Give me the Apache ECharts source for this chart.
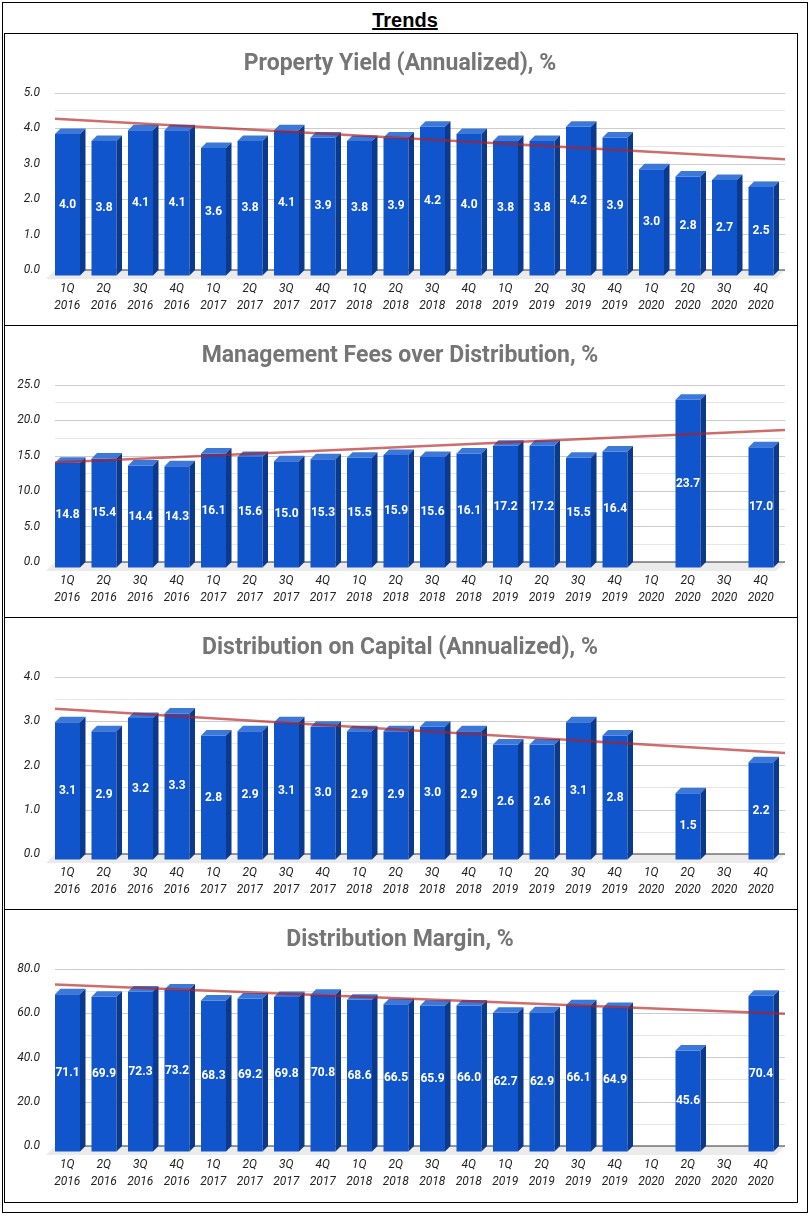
<!DOCTYPE html>
<html>

<head>
    <meta charset="utf-8">
    <title>Trends</title>
    <style>
        body {
            margin: 0;
            background: #fff;
        }

        #frame {
            position: absolute;
            left: 2px;
            top: 2px;
            width: 806px;
            height: 1211px;
            box-sizing: border-box;
            border: 1.5px solid #000;
        }

        #head {
            position: absolute;
            left: 2px;
            top: 2px;
            width: 806px;
            height: 31px;
            text-align: center;
            font: bold 20px "Liberation Sans", Arial, sans-serif;
            line-height: 37px;
        }

        #head span {
            text-decoration: underline;
        }

        .panel {
            position: absolute;
            left: 4px;
            width: 794px;
            box-sizing: border-box;
            border: 1.5px solid #000;
            border-bottom: none;
        }

        #main {
            position: absolute;
            left: 0;
            top: 0;
            width: 812px;
            height: 1220px;
        }
    </style>
</head>

<body>
    <div id="frame"></div>
    <div id="head"><span>Trends</span></div>
    <div class="panel" style="top:33px;height:292px"></div>
    <div class="panel" style="top:325px;height:292px"></div>
    <div class="panel" style="top:617px;height:292px"></div>
    <div class="panel" style="top:909px;height:294px;border-bottom:1.5px solid #000"></div>

    <div id="main"></div>

    <script src="https://cdn.jsdelivr.net/npm/echarts@6/dist/echarts.min.js"></script>
    <script>
        // data
        var quarters = ['1Q\n2016', '2Q\n2016', '3Q\n2016', '4Q\n2016',
            '1Q\n2017', '2Q\n2017', '3Q\n2017', '4Q\n2017',
            '1Q\n2018', '2Q\n2018', '3Q\n2018', '4Q\n2018',
            '1Q\n2019', '2Q\n2019', '3Q\n2019', '4Q\n2019',
            '1Q\n2020', '2Q\n2020', '3Q\n2020', '4Q\n2020'];

        var propertyYield = [4.0, 3.8, 4.1, 4.1, 3.6, 3.8, 4.1, 3.9, 3.8, 3.9,
            4.2, 4.0, 3.8, 3.8, 4.2, 3.9, 3.0, 2.8, 2.7, 2.5];
        var managementFees = [14.8, 15.4, 14.4, 14.3, 16.1, 15.6, 15.0, 15.3, 15.5, 15.9,
            15.6, 16.1, 17.2, 17.2, 15.5, 16.4, null, 23.7, null, 17.0];
        var distributionOnCapital = [3.1, 2.9, 3.2, 3.3, 2.8, 2.9, 3.1, 3.0, 2.9, 2.9,
            3.0, 2.9, 2.6, 2.6, 3.1, 2.8, null, 1.5, null, 2.2];
        var distributionMargin = [71.1, 69.9, 72.3, 73.2, 68.3, 69.2, 69.8, 70.8, 68.6, 66.5,
            65.9, 66.0, 62.7, 62.9, 66.1, 64.9, null, 45.6, null, 70.4];

        var chartTitles = ['Property Yield (Annualized), %',
            'Management Fees over Distribution, %',
            'Distribution on Capital (Annualized), %',
            'Distribution Margin, %'];
        var axisMax = [5, 25, 4, 80];
        var axisStep = [1, 5, 1, 20];

        var allValues = [propertyYield, managementFees, distributionOnCapital, distributionMargin];

        var DEPTH = 5.5;   // 3d offset of the bars
        var FLOOR = 9;     // 3d offset of the floor
        var PANEL = 292;

        // linear trendline over the quarters that have a value
        function trendLine(values) {
            var n = 0, sx = 0, sy = 0, sxx = 0, sxy = 0;
            values.forEach(function (v, i) {
                if (v == null) return;
                n++; sx += i; sy += v; sxx += i * i; sxy += i * v;
            });
            var b = (n * sxy - sx * sy) / (n * sxx - sx * sx);
            var a = (sy - b * sx) / n;
            var x0 = -0.5, x1 = values.length - 0.5;
            return [[x0, a + b * x0], [x1, a + b * x1]];
        }

        function renderBar(params, api) {
            var v = api.value(1);
            if (v == null || isNaN(v)) return null;
            var top = api.coord([api.value(0), v]);
            var base = api.coord([api.value(0), 0]);
            var band = api.size([1, 0])[0];
            var x0 = top[0] - band / 2;
            var w = band * 0.685;
            var d = DEPTH;
            return {
                type: 'group',
                children: [{
                    type: 'rect',
                    shape: { x: x0, y: top[1] + d, width: w, height: base[1] - top[1] },
                    style: { fill: '#1155cc' }
                }, {
                    type: 'polygon',
                    shape: { points: [[x0, top[1] + d], [x0 + w, top[1] + d], [x0 + w + d, top[1]], [x0 + d, top[1]]] },
                    style: { fill: '#3c78d8' }
                }, {
                    type: 'polygon',
                    shape: { points: [[x0 + w, top[1] + d], [x0 + w + d, top[1]], [x0 + w + d, base[1]], [x0 + w, base[1] + d]] },
                    style: { fill: '#0b3a8c' }
                }, {
                    type: 'text',
                    style: {
                        text: v.toFixed(1),
                        x: x0 + w / 2,
                        y: (top[1] + base[1]) / 2 + d,
                        fill: '#fff',
                        font: 'bold 12px Roboto',
                        align: 'center',
                        verticalAlign: 'middle'
                    }
                }]
            };
        }

        function renderFloor(params, api) {
            var cs = params.coordSys;
            var y = api.coord([0, 0])[1];
            var f = FLOOR;
            return {
                type: 'group',
                children: [{
                    type: 'polygon',
                    shape: { points: [[cs.x, y], [cs.x + cs.width, y], [cs.x + cs.width - f, y + f], [cs.x - f, y + f]] },
                    style: { fill: '#ebebeb' }
                }, {
                    type: 'line',
                    shape: { x1: cs.x, y1: y, x2: cs.x + cs.width, y2: y },
                    style: { stroke: '#333', lineWidth: 1 }
                }]
            };
        }

        var myChart = echarts.init(document.getElementById('main'));

        var option = {
            animation: false,
            textStyle: { fontFamily: 'Roboto' },
            title: [], grid: [], xAxis: [], yAxis: [], series: []
        };

        allValues.forEach(function (values, k) {
            option.title.push({
                text: chartTitles[k],
                left: 395,
                textAlign: 'center',
                top: 45 + PANEL * k,
                textStyle: { fontSize: 23, fontWeight: 'bold', color: '#757575', lineHeight: 28, fontFamily: 'Roboto' }
            });
            option.grid.push({ left: 55, right: 27, top: 93 + PANEL * k, height: 177 });
            option.xAxis.push({
                type: 'category',
                gridIndex: k,
                data: quarters,
                axisLine: { show: false },
                axisTick: { show: false },
                axisLabel: {
                    interval: 0,
                    fontStyle: 'italic',
                    fontSize: 12,
                    color: '#222',
                    lineHeight: 17,
                    margin: 10,
                    padding: [0, 12, 0, 0]
                }
            }, {
                type: 'value',
                gridIndex: k,
                min: -0.5,
                max: quarters.length - 0.5,
                show: false
            });
            option.yAxis.push({
                type: 'value',
                gridIndex: k,
                min: 0,
                max: axisMax[k],
                interval: axisStep[k],
                axisLine: { show: false },
                axisTick: { show: false },
                axisLabel: {
                    formatter: function (v) { return v.toFixed(1); },
                    fontStyle: 'italic',
                    fontSize: 12,
                    color: '#222',
                    margin: 15
                },
                splitLine: { lineStyle: { color: '#cccccc' } },
                minorTick: { show: false, splitNumber: 2 },
                minorSplitLine: { show: true, lineStyle: { color: '#e6e6e6' } }
            });
            option.series.push({
                type: 'custom',
                xAxisIndex: 2 * k,
                yAxisIndex: k,
                z: 1,
                silent: true,
                renderItem: renderFloor,
                data: [[0, 0]]
            }, {
                type: 'custom',
                xAxisIndex: 2 * k,
                yAxisIndex: k,
                z: 2,
                renderItem: renderBar,
                encode: { x: 0, y: 1 },
                data: values.map(function (v, i) { return [i, v]; })
            }, {
                type: 'line',
                xAxisIndex: 2 * k + 1,
                yAxisIndex: k,
                z: 5,
                symbol: 'none',
                silent: true,
                lineStyle: { color: 'rgba(180,30,30,0.65)', width: 2.5 },
                data: trendLine(values)
            });
        });

        myChart.setOption(option);
    </script>

</body>

</html>
